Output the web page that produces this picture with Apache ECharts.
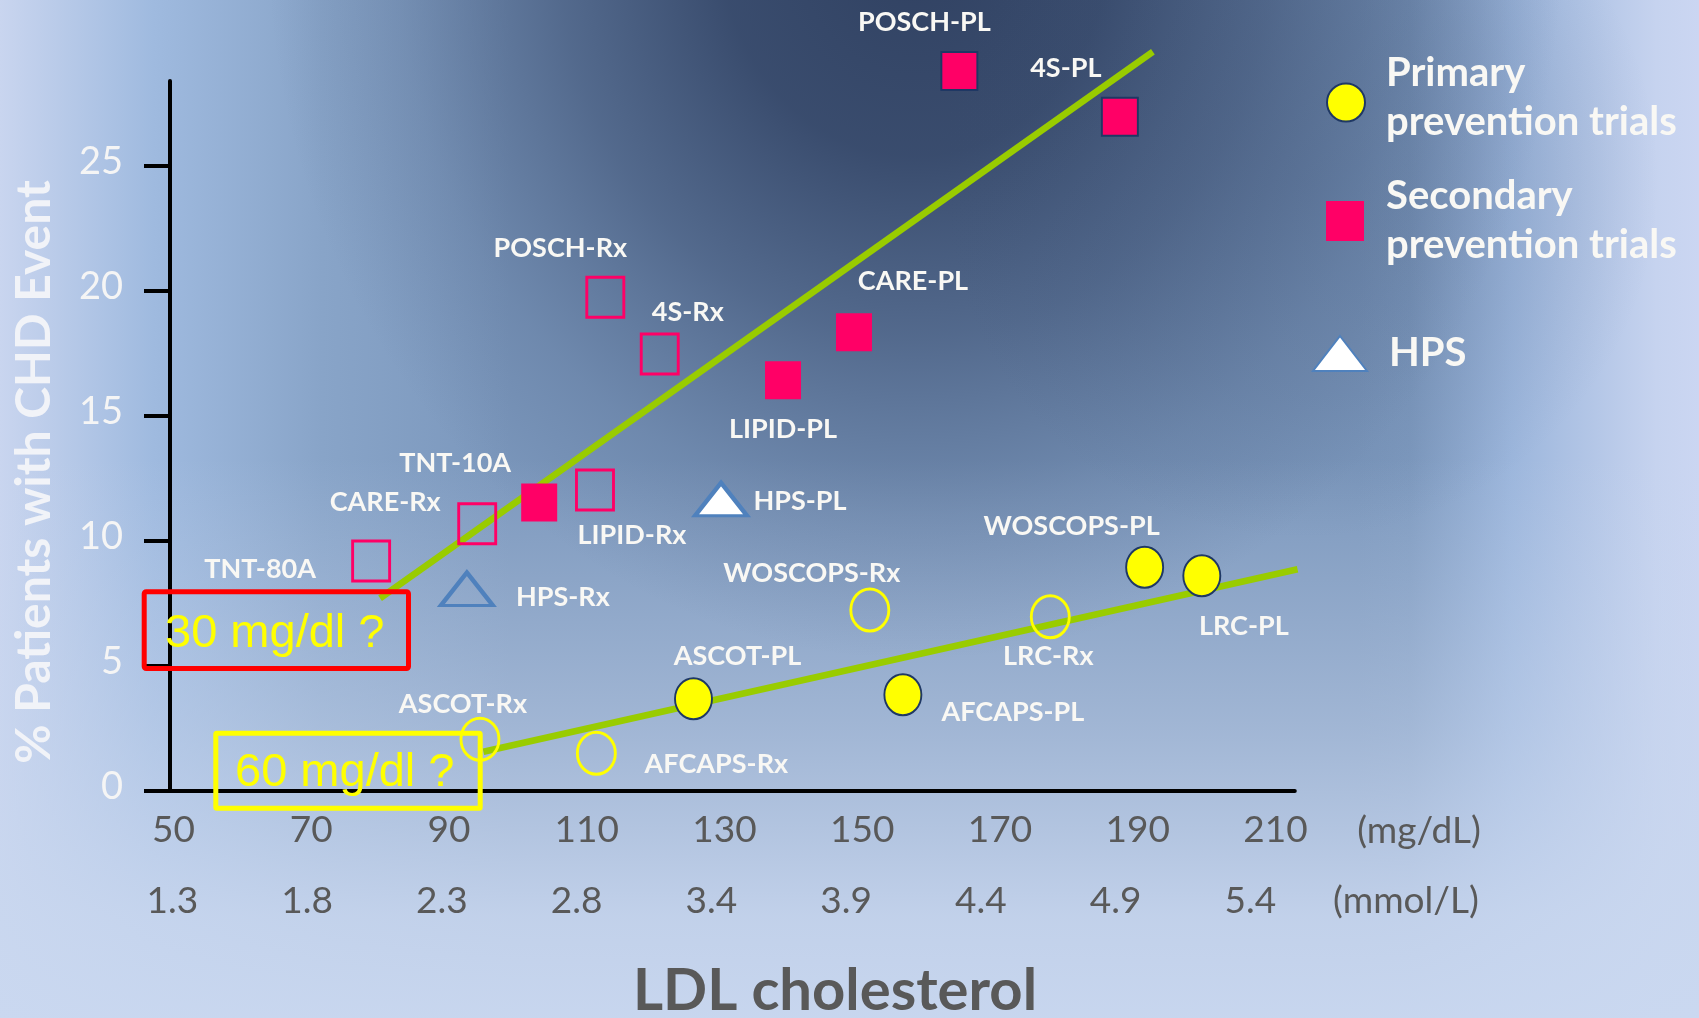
<!DOCTYPE html>
<html>
<head>
<meta charset="utf-8">
<title>LDL cholesterol and CHD events in statin trials</title>
<script src="https://cdn.jsdelivr.net/npm/echarts@6/dist/echarts.min.js"></script>
<style>
  html, body { margin: 0; padding: 0; background: #9fb8dc; }
  #chart { width: 1699px; height: 1018px; }
</style>
</head>
<body>
<div id="chart"></div>
<script>
// Axis tick labels
const mgTicks = [50, 70, 90, 110, 130, 150, 170, 190, 210];
const mmolTicks = ['1.3', '1.8', '2.3', '2.8', '3.4', '3.9', '4.4', '4.9', '5.4'];
const pctTicks = [0, 5, 10, 15, 20, 25];

// Trial arms: [label, LDL cholesterol (mg/dL), % patients with CHD event]
const primaryPlacebo = [
  ['WOSCOPS-PL', 191.0, 8.95],
  ['LRC-PL', 199.3, 8.61],
  ['ASCOT-PL', 125.5, 3.69],
  ['AFCAPS-PL', 155.9, 3.85]
];
const primaryTreated = [
  ['WOSCOPS-Rx', 151.1, 7.24],
  ['LRC-Rx', 177.3, 6.97],
  ['ASCOT-Rx', 94.5, 2.07],
  ['AFCAPS-Rx', 111.4, 1.51]
];
const secondaryPlacebo = [
  ['POSCH-PL', 164.1, 28.8],
  ['4S-PL', 187.4, 26.97],
  ['CARE-PL', 148.8, 18.35],
  ['LIPID-PL', 138.5, 16.43],
  ['TNT-10A', 103.1, 11.54]
];
const secondaryTreated = [
  ['POSCH-Rx', 112.7, 19.75],
  ['4S-Rx', 120.6, 17.48],
  ['LIPID-Rx', 111.2, 12.04],
  ['CARE-Rx', 94.1, 10.69],
  ['TNT-80A', 78.7, 9.2]
];
const hpsPlacebo = [['HPS-PL', 129.5, 11.67]];
const hpsTreated = [['HPS-Rx', 92.6, 8.08]];

// Trend lines: [LDL, %] end points
const secondaryTrend = [[80.0, 7.71], [192.2, 29.57]];
const primaryTrend = [[95.0, 1.57], [213.2, 8.87]];

// Label placement (pixel offset of each trial label from its marker)
const labelOffset = {
  'POSCH-PL': [-35, -49], '4S-PL': [-54, -48], 'CARE-PL': [59, -51], 'LIPID-PL': [0, 49],
  'TNT-10A': [-84, -39], 'POSCH-Rx': [-45, -49], '4S-Rx': [28, -42], 'LIPID-Rx': [37, 45],
  'CARE-Rx': [-92, -21], 'TNT-80A': [-111, 8], 'HPS-PL': [79, 2], 'HPS-Rx': [96, 8],
  'WOSCOPS-PL': [-73, -41], 'LRC-PL': [42, 51], 'ASCOT-PL': [44, -42], 'AFCAPS-PL': [110, 18],
  'WOSCOPS-Rx': [-58, -37], 'LRC-Rx': [-2, 40], 'ASCOT-Rx': [-17, -35], 'AFCAPS-Rx': [120, 11]
};
const outlinedSquares = ['POSCH-PL', '4S-PL'];

const FONT = 'Lato, "Open Sans", "DejaVu Sans", sans-serif';
const LABEL_COLOR = '#f9f8f4';
const GREEN = '#99cc00';
const PINK = '#ff0066';
const NAVY = '#1f3864';
const HPS_BLUE = '#4f81bd';

function toPoints(rows) {
  return rows.map(([name, ldl, pct]) => {
    const item = { name: name, value: [ldl, pct], label: { offset: labelOffset[name] } };
    if (outlinedSquares.indexOf(name) >= 0) {
      item.itemStyle = { borderColor: NAVY, borderWidth: 2 };
    }
    return item;
  });
}

const pointLabel = {
  show: true,
  position: 'inside',
  formatter: '{b}',
  color: LABEL_COLOR,
  fontFamily: FONT,
  fontWeight: 'bold',
  fontSize: 27
};

function scatter(name, rows, symbol, size, itemStyle, z) {
  return {
    name: name,
    type: 'scatter',
    xAxisIndex: 0,
    yAxisIndex: 0,
    symbol: symbol,
    symbolSize: size,
    itemStyle: Object.assign({ opacity: 1 }, itemStyle),
    label: pointLabel,
    clip: false,
    silent: true,
    z: z || 3,
    data: toPoints(rows)
  };
}

function trend(name, pts) {
  return {
    name: name,
    type: 'line',
    xAxisIndex: 0,
    yAxisIndex: 0,
    data: pts,
    symbol: 'none',
    clip: false,
    silent: true,
    z: 2,
    lineStyle: { color: GREEN, width: 6.5, cap: 'butt', opacity: 1 }
  };
}

const legendText = {
  color: LABEL_COLOR,
  fontFamily: FONT,
  fontWeight: 'bold',
  fontSize: 40,
  lineHeight: 49,
  rich: { gap: { fontSize: 1, lineHeight: 9 } }
};

// legend entry: icon + wrapped caption; `lift` adds a thin trailing line so the caption sits a little higher
function legendAt(name, left, top, w, h, textIndent, lift) {
  return {
    data: [name],
    left: left,
    top: top,
    padding: 0,
    itemWidth: w,
    itemHeight: h,
    itemGap: 0,
    selectedMode: false,
    formatter: n => n.replace(' ', '\n') + (lift ? '\n{gap| }' : ''),
    textStyle: Object.assign({ padding: [0, 0, 0, textIndent] }, legendText)
  };
}

const chart = echarts.init(document.getElementById('chart'), null, { renderer: 'canvas', width: 1699, height: 1018 });

const option = {
  animation: false,
  backgroundColor: '#9fb8dc',
  grid: [
    { left: 170, top: 81, width: 1124.8, height: 710, containLabel: false, outerBoundsMode: 'none' },
    { left: 172.3, top: 790, width: 1078.1, height: 1, containLabel: false, outerBoundsMode: 'none' }
  ],
  xAxis: [
    {
      type: 'value', gridIndex: 0, min: 49.5, max: 212.8,
      axisLine: { show: true, onZero: false, lineStyle: { color: '#000', width: 4 } },
      axisTick: { show: false },
      splitLine: { show: false },
      axisLabel: { customValues: mgTicks, color: '#595959', fontFamily: FONT, fontSize: 37, margin: 21 }
    },
    {
      type: 'category', gridIndex: 1, data: mmolTicks, boundaryGap: false,
      axisLine: { show: false }, axisTick: { show: false }, splitLine: { show: false },
      axisLabel: { interval: 0, color: '#595959', fontFamily: FONT, fontSize: 37, margin: 92 }
    }
  ],
  yAxis: [
    {
      type: 'value', gridIndex: 0, min: 0, max: 28.4,
      axisLine: { show: true, onZero: false, lineStyle: { color: '#000', width: 4 } },
      axisTick: { show: true, customValues: pctTicks, length: 26, lineStyle: { color: '#000', width: 4 } },
      splitLine: { show: false },
      axisLabel: {
        customValues: pctTicks, color: '#f5f5f5', fontFamily: FONT, fontWeight: 'normal', fontSize: 38,
        margin: 47, verticalAlign: 'bottom', lineHeight: 8
      }
    },
    { type: 'value', gridIndex: 1, show: false, min: 0, max: 1 }
  ],
  legend: [
    legendAt('Primary prevention trials', 1326, 49, 38, 41, 16, true),
    legendAt('Secondary prevention trials', 1326, 172, 38, 40, 17, false),
    legendAt('HPS', 1312, 329, 54, 35, 17, false)
  ],
  series: [
    trend('Secondary trend', secondaryTrend),
    trend('Primary trend', primaryTrend),
    scatter('Primary prevention trials', primaryPlacebo, 'circle', [37, 41],
      { color: '#ffff00', borderColor: NAVY, borderWidth: 2 }),
    scatter('Primary treated', primaryTreated, 'circle', [38, 42],
      { color: 'rgba(0,0,0,0)', borderColor: '#ffff00', borderWidth: 3 }),
    scatter('Secondary prevention trials', secondaryPlacebo, 'rect', [36, 38],
      { color: PINK, borderWidth: 0 }),
    scatter('Secondary treated', secondaryTreated, 'rect', [37, 40],
      { color: 'rgba(0,0,0,0)', borderColor: PINK, borderWidth: 3 }),
    scatter('HPS', hpsPlacebo, 'triangle', [52, 33],
      { color: '#ffffff', borderColor: HPS_BLUE, borderWidth: 4 }),
    scatter('HPS treated', hpsTreated, 'triangle', [52, 33],
      { color: 'rgba(0,0,0,0)', borderColor: HPS_BLUE, borderWidth: 4 })
  ],
  graphic: [
    // backdrop: light side bands, lighter floor, dark glow at top centre
    {
      type: 'rect', silent: true, z: -100,
      shape: { x: 0, y: 0, width: 1699, height: 1018 },
      style: {
        fill: new echarts.graphic.LinearGradient(0, 0, 1, 0, [
          { offset: 0, color: '#c9d5ef' },
          { offset: 0.09, color: '#9fbadf' },
          { offset: 0.19, color: '#88a4c8' },
          { offset: 0.3, color: '#7b97bc' },
          { offset: 0.8, color: '#7b97bc' },
          { offset: 0.83, color: '#7e9abf' },
          { offset: 0.89, color: '#9cb6dc' },
          { offset: 0.975, color: '#c6d3ef' },
          { offset: 1, color: '#cbd6f2' }
        ])
      }
    },
    {
      type: 'rect', silent: true, z: -99,
      shape: { x: 0, y: 0, width: 1699, height: 1018 },
      style: {
        fill: new echarts.graphic.LinearGradient(0, 0, 0, 1, [
          { offset: 0, color: 'rgba(200,214,238,0)' },
          { offset: 0.45, color: 'rgba(200,214,238,0)' },
          { offset: 0.72, color: 'rgba(200,214,238,0.5)' },
          { offset: 0.9, color: 'rgba(201,215,239,0.9)' },
          { offset: 1, color: 'rgba(202,216,240,0.97)' }
        ])
      }
    },
    {
      type: 'circle', silent: true, z: -98,
      x: 915, y: -60, scaleX: 0.9,
      shape: { cx: 0, cy: 0, r: 720 },
      style: {
        fill: new echarts.graphic.RadialGradient(0.5, 0.5, 0.5, [
          { offset: 0, color: 'rgba(44,60,92,0.95)' },
          { offset: 0.3, color: 'rgba(46,63,96,0.85)' },
          { offset: 0.55, color: 'rgba(50,68,102,0.55)' },
          { offset: 0.8, color: 'rgba(60,80,115,0.2)' },
          { offset: 1, color: 'rgba(70,90,125,0)' }
        ])
      }
    },
    {
      type: 'circle', silent: true, z: -97,
      x: 1300, y: 180,
      shape: { cx: 0, cy: 0, r: 360 },
      style: {
        fill: new echarts.graphic.RadialGradient(0.5, 0.5, 0.5, [
          { offset: 0, color: 'rgba(60,80,115,0.22)' },
          { offset: 0.6, color: 'rgba(60,80,115,0.12)' },
          { offset: 1, color: 'rgba(60,80,115,0)' }
        ])
      }
    },
    // axis titles and units
    {
      type: 'text', silent: true, z: 50,
      x: 35, y: 472, rotation: Math.PI / 2,
      style: { text: '% Patients with CHD Event', fill: '#f1f3f8', fontFamily: FONT, fontWeight: 'bold', fontSize: 48, align: 'center', verticalAlign: 'middle' }
    },
    {
      type: 'text', silent: true, z: 50,
      x: 835, y: 991,
      style: { text: 'LDL cholesterol', fill: '#595959', fontFamily: FONT, fontWeight: 'bold', fontSize: 58, align: 'center', verticalAlign: 'middle' }
    },
    {
      type: 'text', silent: true, z: 50,
      x: 1419, y: 831,
      style: { text: '(mg/dL)', fill: '#595959', fontFamily: FONT, fontSize: 37, align: 'center', verticalAlign: 'middle' }
    },
    {
      type: 'text', silent: true, z: 50,
      x: 1406, y: 901,
      style: { text: '(mmol/L)', fill: '#595959', fontFamily: FONT, fontSize: 37, align: 'center', verticalAlign: 'middle' }
    },
    // threshold call-outs
    {
      type: 'rect', silent: true, z: 100,
      shape: { x: 144.2, y: 591.8, width: 264.3, height: 76.7, r: 2 },
      style: { fill: 'none', stroke: '#ff0000', lineWidth: 5 }
    },
    {
      type: 'text', silent: true, z: 101,
      x: 165, y: 633.7,
      style: { text: '30 mg/dl ?', fill: '#ffff00', fontFamily: '"Liberation Sans", Arial, sans-serif', fontSize: 47, align: 'left', verticalAlign: 'middle' }
    },
    {
      type: 'rect', silent: true, z: 100,
      shape: { x: 215.8, y: 733.2, width: 264.4, height: 75, r: 1 },
      style: { fill: 'none', stroke: '#ffff00', lineWidth: 5 }
    },
    {
      type: 'text', silent: true, z: 101,
      x: 235, y: 773.1,
      style: { text: '60 mg/dl ?', fill: '#ffff00', fontFamily: '"Liberation Sans", Arial, sans-serif', fontSize: 47, align: 'left', verticalAlign: 'middle' }
    }
  ]
};

chart.setOption(option);
</script>
</body>
</html>
